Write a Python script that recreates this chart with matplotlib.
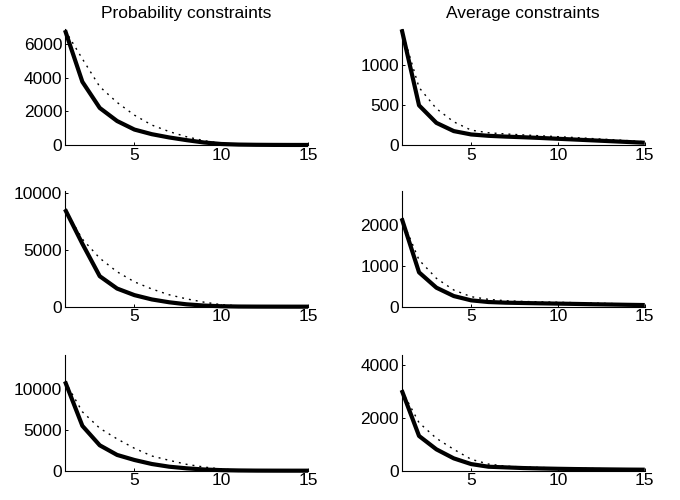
import numpy as np
import matplotlib
matplotlib.use("Agg")
import matplotlib.pyplot as plt

plt.rcParams['font.family'] = ['Liberation Sans', 'DejaVu Sans']

""" Data read off the reference: index 1..15 """
x = np.arange(1, 16)

col_titles = ["Probability constraints", "Average constraints"]

# row 1
prob1_solid = [6850, 3770, 2210, 1430, 920, 645, 450, 290, 150, 60, 25, 12, 6, 3, 2]
prob1_dot = [6850, 5140, 3480, 2540, 1780, 1190, 800, 490, 260, 100, 40, 15, 8, 4, 2]
avg1_solid = [1448, 496, 277, 174, 132, 115, 105, 97, 88, 78, 68, 58, 48, 38, 28]
avg1_dot = [1448, 720, 455, 290, 186, 153, 138, 126, 115, 104, 93, 80, 68, 55, 40]

# row 2
prob2_solid = [8590, 5550, 2690, 1600, 1020, 640, 390, 210, 100, 40, 15, 8, 5, 3, 2]
prob2_dot = [8590, 5960, 4280, 3080, 2190, 1560, 1050, 690, 400, 180, 70, 25, 10, 5, 3]
avg2_solid = [2157, 838, 464, 260, 155, 114, 98, 90, 82, 75, 68, 60, 53, 46, 40]
avg2_dot = [2157, 1140, 692, 407, 244, 179, 145, 128, 118, 108, 98, 88, 78, 68, 58]

# row 3
prob3_solid = [10930, 5490, 3110, 1930, 1310, 820, 490, 290, 150, 70, 30, 12, 6, 3, 2]
prob3_dot = [10930, 7210, 5200, 3890, 2740, 1800, 1270, 780, 450, 200, 60, 20, 8, 4, 2]
avg3_solid = [3040, 1310, 805, 465, 250, 150, 125, 100, 85, 72, 62, 55, 48, 42, 38]
avg3_dot = [3040, 1810, 1220, 805, 430, 250, 170, 140, 120, 105, 92, 82, 72, 64, 58]

y_top = [[6920, 1452], [10230, 2830], [14200, 4375]]
y_ticks = [[[0, 2000, 4000, 6000], [0, 500, 1000]],
           [[0, 5000, 10000], [0, 1000, 2000]],
           [[0, 5000, 10000], [0, 2000, 4000]]]

panels = [[(prob1_solid, prob1_dot), (avg1_solid, avg1_dot)],
          [(prob2_solid, prob2_dot), (avg2_solid, avg2_dot)],
          [(prob3_solid, prob3_dot), (avg3_solid, avg3_dot)]]

# ============================================================================
fig = plt.figure(figsize=(6.8, 5.0), dpi=100)

lefts = [0.0956, 0.5907]
width = 0.3575
bottoms = [0.710, 0.3866, 0.0586]
height = 0.232

for r in range(3):
    for c in range(2):
        ax = fig.add_axes([lefts[c], bottoms[r], width, height])
        solid, dot = panels[r][c]
        ax.plot(x, dot, color='black', lw=1.0, linestyle=(0, (1.4, 3.6)),
                clip_on=False)
        ax.plot(x, solid, color='black', lw=3.0, clip_on=False,
                solid_joinstyle='round', solid_capstyle='butt')
        ax.set_xlim(1, 15)
        ax.set_ylim(0, y_top[r][c])
        ax.set_xticks([5, 10, 15])
        ax.set_yticks(y_ticks[r][c])
        for s in ['top', 'right']:
            ax.spines[s].set_visible(False)
        for s in ['left', 'bottom']:
            ax.spines[s].set_linewidth(0.8)
        ax.tick_params(direction='in', length=2.2, width=0.7,
                       labelsize=12.5, pad=2)
        if r == 0:
            ax.set_title(col_titles[c], fontsize=12.5, pad=8)

fig.savefig("out.png", dpi=100)
